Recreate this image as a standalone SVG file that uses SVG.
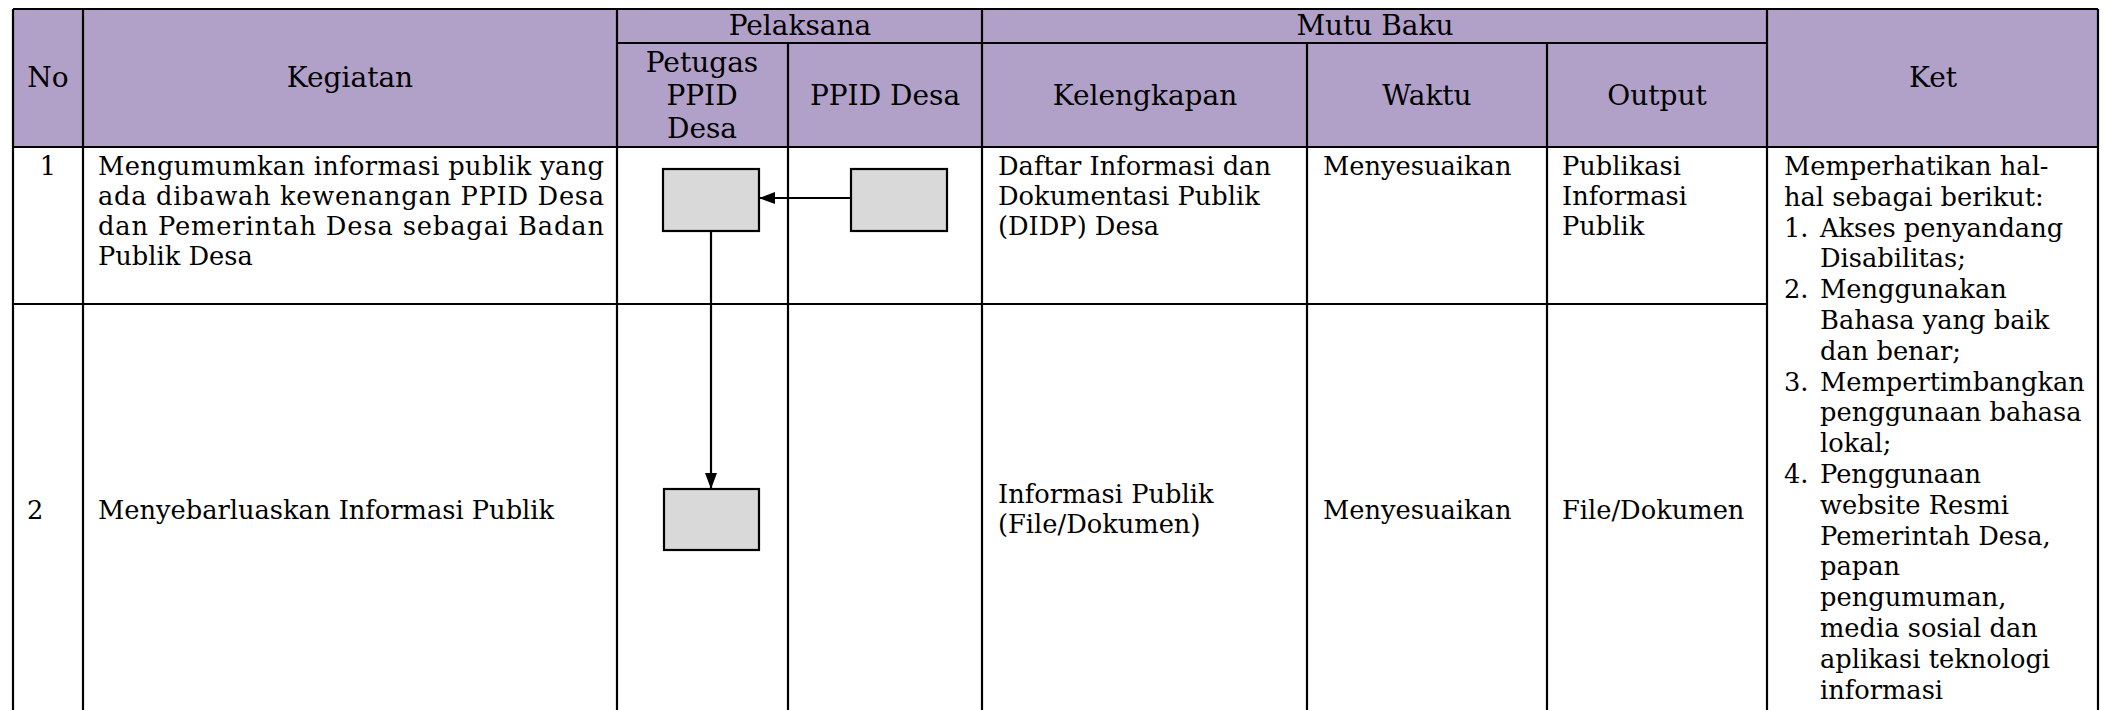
<svg xmlns="http://www.w3.org/2000/svg" width="2106" height="710" viewBox="0 0 2106 710">
<defs>
<style>
text{font-family:"DejaVu Serif","Liberation Serif",serif;fill:#000}
.h{font-size:28px;text-anchor:middle}
.b{font-size:25.7px}
.c{text-anchor:middle}
.ln{stroke:#000;stroke-width:2.2;fill:none}
.box{fill:#D9D9D9;stroke:#000;stroke-width:2.2}
.con{stroke:#000;stroke-width:2.2;fill:none}
</style>
<marker id="ah" viewBox="0 0 16 12" refX="16" refY="6" markerWidth="16" markerHeight="12" markerUnits="userSpaceOnUse" orient="auto">
<path d="M0,0 L16,6 L0,12 Z" fill="#000"/>
</marker>
</defs>
<rect x="0" y="0" width="2106" height="710" fill="#fff"/>
<g id="table">
<rect x="13" y="9" width="2085" height="138" fill="#B1A0C7"/>
<g class="ln">
<path d="M13,9 H2098"/>
<path d="M617,43 H1767"/>
<path d="M13,147 H2098"/>
<path d="M13,304 H1767"/>
<path d="M13,9 V710 M83,9 V710 M617,9 V710 M788,43 V710 M982,9 V710 M1307,43 V710 M1547,43 V710 M1767,9 V710 M2098,9 V710"/>
</g>
</g>
<g id="header">
<text class="h" x="48" y="87">No</text>
<text class="h" x="350" y="87">Kegiatan</text>
<text class="h" x="800" y="35">Pelaksana</text>
<text class="h" x="1375" y="35">Mutu Baku</text>
<text class="h" x="702" y="72">Petugas</text>
<text class="h" x="702" y="105">PPID</text>
<text class="h" x="702" y="138">Desa</text>
<text class="h" x="885" y="105">PPID Desa</text>
<text class="h" x="1145" y="105">Kelengkapan</text>
<text class="h" x="1427" y="105">Waktu</text>
<text class="h" x="1657" y="105">Output</text>
<text class="h" x="1933" y="87">Ket</text>
</g>
<g id="row1">
<text class="b c" x="48" y="175">1</text>
<text class="b" x="98" y="175" textLength="506" lengthAdjust="spacing">Mengumumkan informasi publik yang</text>
<text class="b" x="98" y="205" textLength="506" lengthAdjust="spacing">ada dibawah kewenangan PPID Desa</text>
<text class="b" x="98" y="235" textLength="506" lengthAdjust="spacing">dan Pemerintah Desa sebagai Badan</text>
<text class="b" x="98" y="265">Publik Desa</text>
<text class="b" x="998" y="175">Daftar Informasi dan</text>
<text class="b" x="998" y="205">Dokumentasi Publik</text>
<text class="b" x="998" y="235">(DIDP) Desa</text>
<text class="b" x="1323" y="175">Menyesuaikan</text>
<text class="b" x="1562" y="175">Publikasi</text>
<text class="b" x="1562" y="205">Informasi</text>
<text class="b" x="1562" y="235">Publik</text>
</g>
<g id="row2">
<text class="b" x="27" y="519">2</text>
<text class="b" x="98" y="519">Menyebarluaskan Informasi Publik</text>
<text class="b" x="998" y="503">Informasi Publik</text>
<text class="b" x="998" y="533">(File/Dokumen)</text>
<text class="b" x="1323" y="519">Menyesuaikan</text>
<text class="b" x="1562" y="519">File/Dokumen</text>
</g>
<g id="ket">
<text class="b" x="1784" y="175">Memperhatikan hal-</text>
<text class="b" x="1784" y="206">hal sebagai berikut:</text>
<text class="b" x="1784" y="237">1.</text><text class="b" x="1820" y="237">Akses penyandang</text>
<text class="b" x="1820" y="267">Disabilitas;</text>
<text class="b" x="1784" y="298">2.</text><text class="b" x="1820" y="298">Menggunakan</text>
<text class="b" x="1820" y="329">Bahasa yang baik</text>
<text class="b" x="1820" y="360">dan benar;</text>
<text class="b" x="1784" y="391">3.</text><text class="b" x="1820" y="391">Mempertimbangkan</text>
<text class="b" x="1820" y="421">penggunaan bahasa</text>
<text class="b" x="1820" y="452">lokal;</text>
<text class="b" x="1784" y="483">4.</text><text class="b" x="1820" y="483">Penggunaan</text>
<text class="b" x="1820" y="514">website Resmi</text>
<text class="b" x="1820" y="545">Pemerintah Desa,</text>
<text class="b" x="1820" y="575">papan</text>
<text class="b" x="1820" y="606">pengumuman,</text>
<text class="b" x="1820" y="637">media sosial dan</text>
<text class="b" x="1820" y="668">aplikasi teknologi</text>
<text class="b" x="1820" y="699">informasi</text>
</g>
<g id="node-petugas-1"><rect class="box" x="663" y="169" width="96" height="62"/></g>
<g id="node-ppid-1"><rect class="box" x="851" y="169" width="96" height="62"/></g>
<g id="node-petugas-2"><rect class="box" x="664" y="489" width="95" height="61"/></g>
<g id="connectors">
<path class="con" d="M851,198 H759" marker-end="url(#ah)"/>
<path class="con" d="M711,231 V489" marker-end="url(#ah)"/>
</g>
</svg>
